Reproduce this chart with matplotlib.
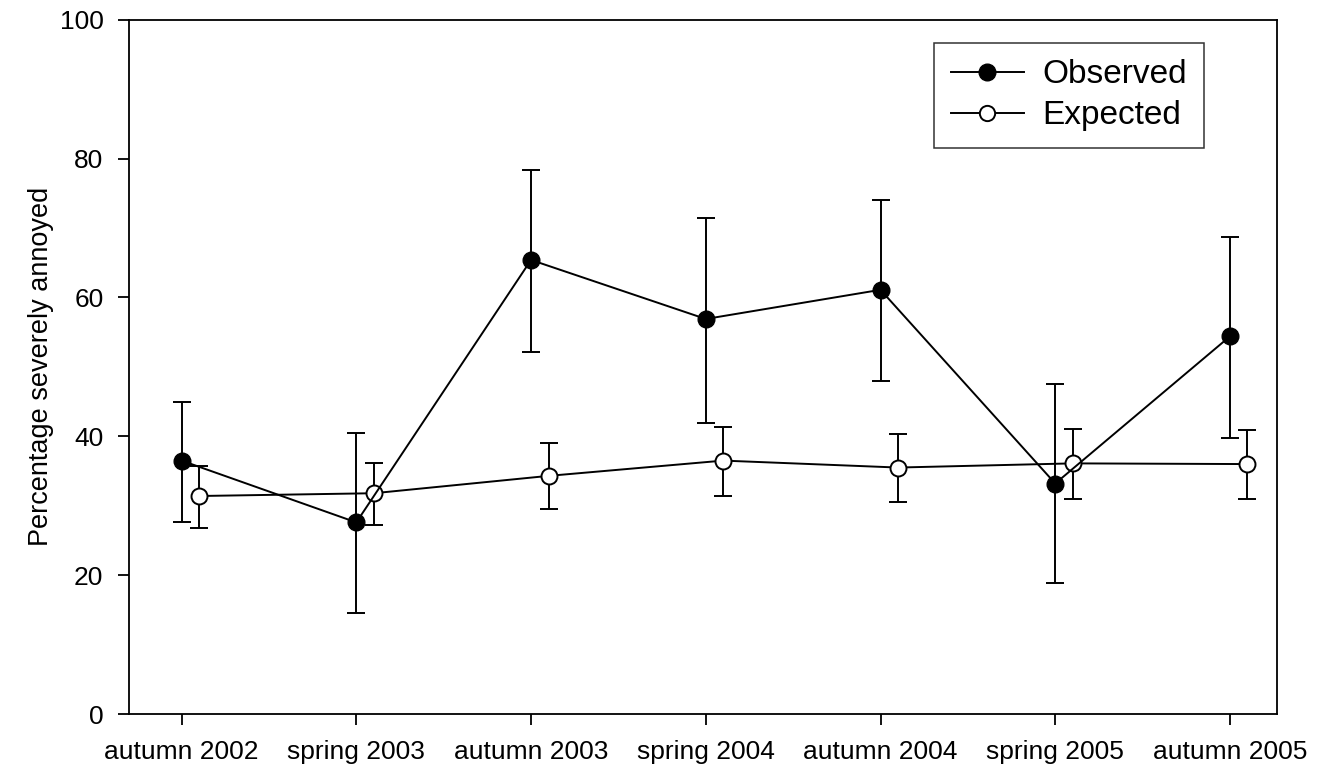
import matplotlib.pyplot as plt
from matplotlib.lines import Line2D
import numpy as np

plt.rcParams['font.family'] = ['Liberation Sans', 'DejaVu Sans']

seasons = ["autumn 2002", "spring 2003", "autumn 2003", "spring 2004",
           "autumn 2004", "spring 2005", "autumn 2005"]

observed = [36.5, 27.6, 65.4, 56.9, 61.1, 33.2, 54.4]
observed_low = [27.6, 14.6, 52.2, 41.9, 47.9, 18.8, 39.7]
observed_high = [45.0, 40.5, 78.4, 71.5, 74.1, 47.6, 68.7]

expected = [31.4, 31.8, 34.3, 36.5, 35.5, 36.1, 36.0]
expected_low = [26.8, 27.2, 29.5, 31.4, 30.5, 31.0, 30.9]
expected_high = [35.7, 36.2, 39.1, 41.4, 40.3, 41.0, 40.9]

x = np.arange(len(seasons))
offset = 0.1

fig = plt.figure(figsize=(13.18, 7.68), dpi=100)
ax = fig.add_axes([0.098, 0.0703, 0.871, 0.904])

obs = np.array(observed)
exp_ = np.array(expected)
obs_err = [obs - np.array(observed_low), np.array(observed_high) - obs]
exp_err = [exp_ - np.array(expected_low), np.array(expected_high) - exp_]

ax.errorbar(x + offset, exp_, yerr=exp_err, color="black", lw=1.4,
            elinewidth=1.4, capsize=6.7, capthick=1.4, marker="o",
            markersize=11.5, markerfacecolor="white", markeredgecolor="black",
            markeredgewidth=1.4, zorder=2)
ax.errorbar(x, obs, yerr=obs_err, color="black", lw=1.4,
            elinewidth=1.4, capsize=6.7, capthick=1.4, marker="o",
            markersize=12, markerfacecolor="black", markeredgecolor="black",
            zorder=3)

ax.set_xlim(-0.30, 6.27)
ax.set_ylim(0, 100)
ax.set_yticks([0, 20, 40, 60, 80, 100])
ax.set_xticks(x)
ax.set_xticklabels(seasons)
ax.tick_params(axis="both", direction="out", length=8, width=1.3,
               labelsize=19, colors="black")
ax.tick_params(axis="x", pad=11)
ax.tick_params(axis="y", pad=10.5)
for s in ax.spines.values():
    s.set_linewidth(1.3)

ax.set_ylabel("Percentage severely annoyed", fontsize=19.5, labelpad=4)

handles = [
    Line2D([], [], color="black", lw=1.4, marker="o", markersize=12,
           markerfacecolor="black", markeredgecolor="black"),
    Line2D([], [], color="black", lw=1.4, marker="o", markersize=11,
           markerfacecolor="white", markeredgecolor="black",
           markeredgewidth=1.4),
]
leg = ax.legend(handles, ["Observed", "Expected"], loc="upper right",
                bbox_to_anchor=(0.936, 0.967), fontsize=24, frameon=True,
                fancybox=False, edgecolor="black", handlelength=2.2,
                borderpad=0.5, labelspacing=0.3, handletextpad=0.55,
                borderaxespad=0)
leg.get_frame().set_linewidth(1.1)

fig.savefig("out.png", dpi=100)
